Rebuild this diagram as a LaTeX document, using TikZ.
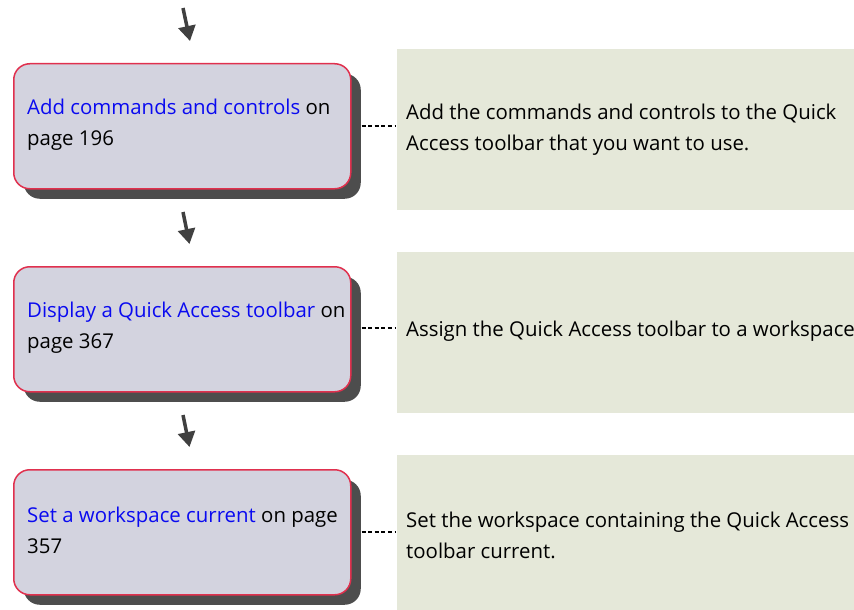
\documentclass[tikz,border=0pt]{standalone}
\usepackage{fontspec}
\setmainfont{Open Sans}
\usetikzlibrary{arrows.meta,shadows}
\definecolor{boxfill}{HTML}{D3D3DF}
\definecolor{boxline}{HTML}{E0304E}
\definecolor{shade}{HTML}{4D4D4D}
\definecolor{panel}{HTML}{E5E8D9}
\definecolor{linkblue}{HTML}{0A0AF0}
\definecolor{arrowgrey}{HTML}{404040}
\tikzset{
  x=1pt, y=-1pt,
  stepbox/.style={draw=boxline, line width=1.5pt, fill=boxfill, rounded corners=16pt,
    minimum width=337pt, minimum height=125pt, inner sep=0pt, anchor=north west,
    drop shadow={shadow xshift=10pt, shadow yshift=-10pt, fill=shade, opacity=1}},
  panelbox/.style={fill=panel, draw=none, minimum width=457pt, minimum height=161pt,
    inner sep=0pt, anchor=north west},
  txt/.style={anchor=west, inner sep=0pt, align=left, font=\fontsize{20.4}{31.5}\selectfont},
  link/.style={dash pattern=on 4pt off 2.6pt, line width=1.2pt, shorten <=10pt, shorten >=2pt},
  flow/.style={draw=arrowgrey, line width=3.5pt, -{Triangle[width=17pt,length=15pt]}}
}
\begin{document}
\begin{tikzpicture}
\useasboundingbox[fill=white] (0,0) rectangle (854,610);
% panels
\node[panelbox] (p1) at (397,49) {};
\node[panelbox] (p2) at (397,252) {};
\node[panelbox] (p3) at (397,455) {};
% boxes
\node[stepbox] (b1) at (13,63) {};
\node[stepbox] (b2) at (13,266) {};
\node[stepbox] (b3) at (13,469) {};
% box texts
\node[txt] (t1) at (27,124.5) {\textcolor{linkblue}{Add commands and controls} on\\page 196};
\node[txt] (t2) at (27,327.5) {\textcolor{linkblue}{Display a Quick Access toolbar} on\\page 367};
\node[txt] (t3) at (27,530.5) {\textcolor{linkblue}{Set a workspace current} on page\\357};
% panel texts
\node[txt] (d1) at (406,129.5) {Add the commands and controls to the Quick\\Access toolbar that you want to use.};
\node[txt] (d2) at (406,331) {Assign the Quick Access toolbar to a workspace.};
\node[txt] (d3) at (406,535.5) {Set the workspace containing the Quick Access\\toolbar current.};
% dashed connectors
\draw[link] (b1.east |- 0,126) -- (p1.west |- 0,126);
\draw[link] (b2.east |- 0,328) -- (p2.west |- 0,328);
\draw[link] (b3.east |- 0,532) -- (p3.west |- 0,532);
% flow arrows
\coordinate (a0s) at (183,8);
\coordinate (a0e) at (190,41);
\coordinate (a1s) at (183,212);
\coordinate (a1e) at (189.5,244);
\coordinate (a2s) at (183,415);
\coordinate (a2e) at (189.5,447);
\draw[flow] (a0s) -- (a0e);
\draw[flow] (a1s) -- (a1e);
\draw[flow] (a2s) -- (a2e);
\end{tikzpicture}
\end{document}
